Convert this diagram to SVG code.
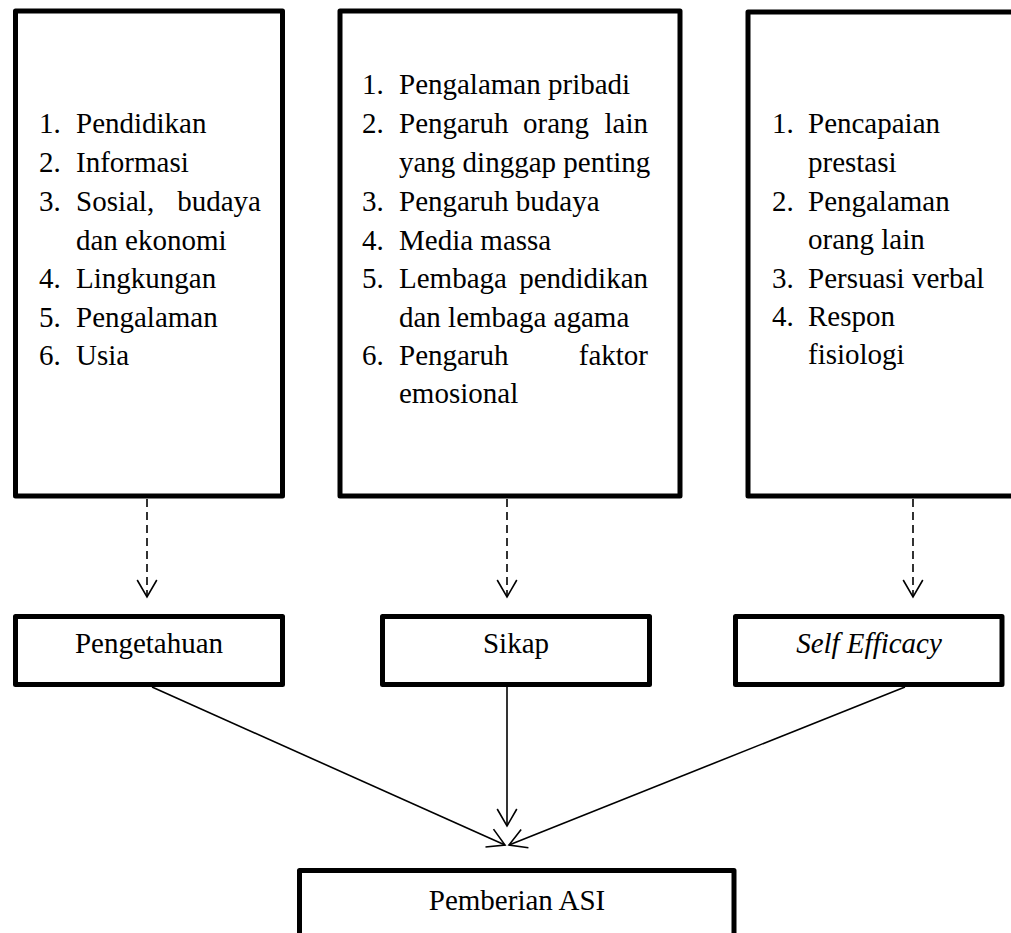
<svg xmlns="http://www.w3.org/2000/svg" width="1011" height="933" viewBox="0 0 1011 933">
<style>
.box{fill:#fff;stroke:#000;stroke-width:5;stroke-linejoin:round}
.t{font-family:'Liberation Serif','Times New Roman',Times,serif;font-size:29px;fill:#000}
.c{text-anchor:middle}
.e{text-anchor:end}
.i{font-style:italic}
.ln{stroke:#000;stroke-width:1.6;fill:none}
.dash{stroke-dasharray:8 5}
</style>
<defs>
<marker id="v" markerUnits="userSpaceOnUse" orient="auto" refX="0" refY="0" markerWidth="40" markerHeight="40" overflow="visible">
<path d="M-17,-9.8 L0,0 L-17,9.8" fill="none" stroke="#000" stroke-width="1.6"/>
</marker>
</defs>
<rect width="1011" height="933" fill="#fff"/>
<g id="connectors">
<path class="ln dash" d="M147,499 V597" marker-end="url(#v)"/>
<path class="ln dash" d="M507,499 V597" marker-end="url(#v)"/>
<path class="ln dash" d="M913,499 V597" marker-end="url(#v)"/>
<path class="ln" d="M152,687 L505,845" marker-end="url(#v)"/>
<path class="ln" d="M507,687 V826" marker-end="url(#v)"/>
<path class="ln" d="M905,687 L509,845" marker-end="url(#v)"/>
</g>
<g id="faktor-pengetahuan" font-family="Liberation Serif, serif">
<rect class="box" x="15.5" y="11" width="267" height="485"/>
<text class="t" x="39" y="133">1.</text><text class="t" x="76" y="133">Pendidikan</text>
<text class="t" x="39" y="172">2.</text><text class="t" x="76" y="172">Informasi</text>
<text class="t" x="39" y="211">3.</text><text class="t" x="76" y="211">Sosial,</text><text class="t e" x="261" y="211">budaya</text>
<text class="t" x="76" y="250">dan ekonomi</text>
<text class="t" x="39" y="288">4.</text><text class="t" x="76" y="288">Lingkungan</text>
<text class="t" x="39" y="327">5.</text><text class="t" x="76" y="327">Pengalaman</text>
<text class="t" x="39" y="365">6.</text><text class="t" x="76" y="365">Usia</text>
</g>
<g id="faktor-sikap">
<rect class="box" x="340" y="11" width="340" height="485"/>
<text class="t" x="362" y="94">1.</text><text class="t" x="399" y="94">Pengalaman pribadi</text>
<text class="t" x="362" y="133">2.</text><text class="t" x="399" y="133">Pengaruh</text><text class="t" x="523" y="133">orang</text><text class="t e" x="648" y="133">lain</text>
<text class="t" x="399" y="172">yang dinggap penting</text>
<text class="t" x="362" y="211">3.</text><text class="t" x="399" y="211">Pengaruh budaya</text>
<text class="t" x="362" y="250">4.</text><text class="t" x="399" y="250">Media massa</text>
<text class="t" x="362" y="288">5.</text><text class="t" x="399" y="288">Lembaga</text><text class="t e" x="648" y="288">pendidikan</text>
<text class="t" x="399" y="327">dan lembaga agama</text>
<text class="t" x="362" y="365">6.</text><text class="t" x="399" y="365">Pengaruh</text><text class="t e" x="648" y="365">faktor</text>
<text class="t" x="399" y="403">emosional</text>
</g>
<g id="faktor-self-efficacy">
<rect class="box" x="748" y="12" width="300" height="484"/>
<text class="t" x="772" y="133">1.</text><text class="t" x="808" y="133">Pencapaian</text>
<text class="t" x="808" y="172">prestasi</text>
<text class="t" x="772" y="211">2.</text><text class="t" x="808" y="211">Pengalaman</text>
<text class="t" x="808" y="249">orang lain</text>
<text class="t" x="772" y="288">3.</text><text class="t" x="808" y="288">Persuasi verbal</text>
<text class="t" x="772" y="326">4.</text><text class="t" x="808" y="326">Respon</text>
<text class="t" x="808" y="364">fisiologi</text>
</g>
<g id="pengetahuan">
<rect class="box" x="15.5" y="616.5" width="267" height="68"/>
<text class="t c" x="149" y="653">Pengetahuan</text>
</g>
<g id="sikap">
<rect class="box" x="382.5" y="616.5" width="267" height="68"/>
<text class="t c" x="516" y="653">Sikap</text>
</g>
<g id="self-efficacy">
<rect class="box" x="735.5" y="616.5" width="266.5" height="68"/>
<text class="t c i" x="869" y="653">Self Efficacy</text>
</g>
<g id="pemberian-asi">
<rect class="box" x="299.5" y="870.5" width="434.5" height="100"/>
<text class="t c" x="517" y="910">Pemberian ASI</text>
</g>
</svg>
